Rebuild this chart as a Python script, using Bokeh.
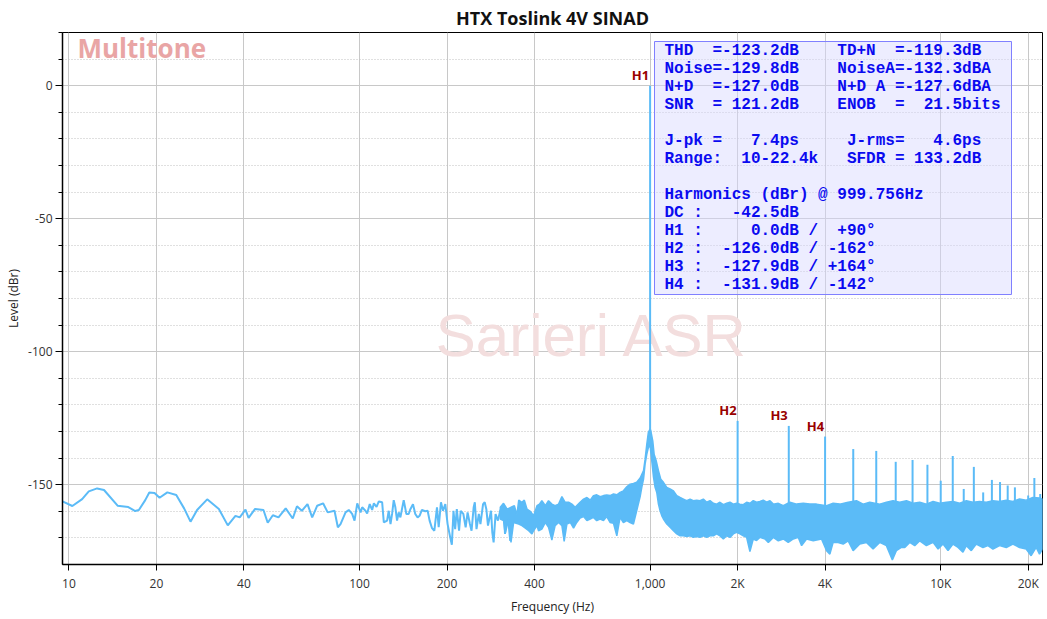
import re
import numpy as np
from bokeh.plotting import figure
from bokeh.models import FixedTicker, BoxAnnotation
from bokeh.core.properties import value
from bokeh.embed import file_html
from bokeh.resources import INLINE

# ---------------- data ----------------
lf_freq = [9.5, 10.27, 11.1, 11.7, 12.5, 13.2, 14.7, 16.0, 16.9, 17.4, 18.3, 18.9, 19.7, 20.5,
           21.8, 23.4, 24.9, 26.2, 27.6, 29.9, 32.8, 35.2, 37.4, 38.7, 40.5, 41.5, 43.7, 46.7,
           48.3, 50.3, 52.6, 55.7, 58.9, 60.9, 63.3, 66.2, 68.7, 71.5, 74.9, 77.7, 82.0, 84.2,
           86.0, 89.5, 91.8, 94.3, 96.1, 98.2, 100.8, 102.1, 104.8, 106.2, 108.4, 110.5, 112.0,
           114.4, 116.5, 119.6, 121.2, 124.4, 126.0, 127.8, 129.4, 131.1, 132.8, 134.6, 136.4,
           138.2, 141.9, 144.9, 147.6, 149.6, 152.7, 155.5, 158.4, 160.9, 163.9, 168.3, 171.5,
           174.2, 177.5, 180.9, 184.7, 187.2, 190.6, 193.7, 197.3, 200.9, 205.1, 207.8, 210.5,
           213.3, 216.1, 220.0, 222.9, 227.6, 231.8, 235.4, 239.8, 242.9, 247.0, 249.3, 252.6,
           257.3, 260.6, 266.1, 269.6, 273.1, 276.7, 283.4, 286.3, 289.3, 293.8, 299.3, 304.8,
           313.1, 316.6, 321.7, 325.0, 330.0]
lf_level = [-156.3, -158.0, -155.4, -152.5, -151.4, -152.0, -157.9, -158.4, -159.9, -159.5, -155.8,
            -152.9, -153.1, -154.9, -152.9, -153.9, -158.9, -163.9, -159.5, -155.5, -159.1, -165.3,
            -161.7, -162.3, -159.4, -162.5, -159.1, -159.5, -164.3, -161.5, -162.3, -158.9, -162.7,
            -158.1, -159.8, -157.3, -162.3, -157.9, -157.0, -160.4, -159.8, -166.0,
            -164.8, -160.4, -159.5, -161.0, -163.5, -157.0, -160.4, -158.5, -159.8, -160.8, -157.3,
            -159.5, -157.0, -158.3, -156.3, -156.6, -164.2, -163.5, -159.8, -164.8, -161.0, -155.8,
            -158.5, -163.5, -160.4, -162.3, -155.8, -161.0, -161.0, -159.2, -157.3, -161.0, -162.3,
            -161.7, -159.5, -160.0, -159.8, -163.5, -166.3, -167.3, -158.5, -166.0, -156.6, -159.8,
            -157.3, -164.8, -169.8, -172.6, -159.8, -166.7, -159.2, -167.3, -159.8, -161.0, -166.0,
            -160.4, -164.8, -167.3, -158.5, -156.6, -166.7, -161.0, -164.8, -157.3, -156.6, -159.2,
            -165.4, -159.8, -167.9, -171.7, -161.0, -163.5, -159.8, -157.3, -168.5, -161.0, -163.5,
            -171.1]

band_top_freq = [305, 313, 322, 335, 341, 348, 353, 362, 369, 377, 387, 397, 408, 416, 424, 436, 447,
                 459, 471, 484, 497, 510, 524, 538, 552, 574, 590, 606, 622, 638, 655, 673, 691, 709,
                 728, 748, 768, 788, 809, 831, 853, 876, 899, 924, 949, 961, 974, 986, 1000, 1005,
                 1021, 1032, 1049, 1068, 1088, 1111, 1141, 1171, 1203, 1235, 1268, 1302, 1336, 1372,
                 1408, 1446, 1485, 1524, 1566, 1607, 1650, 1694, 1739, 1786, 1834, 1883, 1933, 1984,
                 2037, 2092, 2148, 2205, 2264, 2324, 2386, 2450, 2517, 2585, 2654, 2761, 2872, 3028,
                 3192, 3364, 3546, 3737, 4047, 4264, 4496, 4803, 5129, 5406, 5699, 6168, 6502, 6854,
                 7224, 7622, 8035, 8471, 8927, 9412, 9921, 10457, 11022, 11618, 12253, 12910, 13611,
                 14349, 15125, 15943, 16806, 17715, 18674, 19684, 20751, 21873, 22400]
band_top_level = [-158.5, -157.0, -159.2, -158.3, -157.9, -161.3, -155.8, -156.6, -155.8, -159.2, -160.0,
                  -161.7, -157.9, -157.3, -156.0, -157.9, -156.0, -157.3, -157.9, -157.3, -154.5, -156.6,
                  -156.6, -157.3, -158.5, -156.6, -155.4, -154.8, -155.8, -154.1, -153.8, -154.5, -154.1,
                  -153.9, -154.1, -153.5, -153.8, -152.9, -152.3, -150.8, -149.8, -149.5, -149.1, -147.5,
                  -144.7, -140.4, -134.7, -130.3, -129.0, -129.7, -133.5, -138.5, -141.0, -144.7, -147.9,
                  -149.1, -151.0, -151.6, -152.3, -154.1, -154.8, -155.4, -156.0, -155.4, -156.0, -155.8,
                  -156.0, -155.4, -156.6, -156.0, -157.0, -157.3, -156.6, -157.5, -157.0, -156.6, -157.3,
                  -157.0, -157.3, -157.5, -156.6, -157.0, -156.0, -156.6, -156.3, -155.8, -156.6, -156.0,
                  -157.3, -157.0, -157.9, -156.6, -157.3, -157.0, -157.3, -157.3, -157.9, -157.0, -157.3,
                  -156.6, -156.0, -157.3, -156.6, -157.3, -156.6, -156.0, -156.6, -156.0, -157.0, -156.6,
                  -157.3, -156.3, -157.0, -156.6, -156.3, -157.0, -156.0, -156.6, -156.3, -156.6, -156.0,
                  -156.3, -155.8, -156.3, -155.4, -155.8, -154.8, -155.0, -155.4]

band_bot_freq = [305, 313, 317, 326, 332, 339, 353, 362, 372, 382, 392, 397, 408, 413, 424, 436, 447,
                 459, 471, 484, 497, 506, 517, 531, 545, 559, 574, 590, 606, 622, 638, 655, 673, 691,
                 709, 728, 748, 768, 788, 809, 831, 853, 876, 899, 924, 936, 949, 961, 974, 986, 1000,
                 1013, 1027, 1040, 1054, 1068, 1082, 1097, 1111, 1141, 1171, 1203, 1235, 1268, 1302,
                 1336, 1372, 1408, 1446, 1485, 1524, 1566, 1607, 1650, 1694, 1739, 1786, 1834, 1883,
                 1933, 1984, 2037, 2092, 2148, 2205, 2264, 2324, 2386, 2484, 2551, 2654, 2761, 2872,
                 2987, 3109, 3235, 3321, 3454, 3641, 3888, 4047, 4155, 4264, 4436, 4616, 4803, 4996,
                 5266, 5551, 5851, 6168, 6502, 6816, 7036, 7320, 7522, 7825, 8139, 8471, 8927, 9412,
                 9793, 10186, 10595, 11022, 11472, 11927, 12253, 12743, 13252, 13976, 14540, 15125,
                 15943, 16806, 17715, 18674, 19684, 20470, 21303, 21873, 22400]
band_bot_level = [-162.9, -163.5, -168.5, -162.9, -171.7, -164.2, -164.8, -165.4, -166.3, -167.3, -168.5,
                  -167.3, -165.4, -167.3, -166.7, -164.2, -166.0, -170.8, -165.4, -164.2, -165.4, -171.3,
                  -164.8, -164.2, -166.3, -164.2, -162.5, -162.0, -163.5, -162.9, -162.3, -163.5, -162.9,
                  -163.5, -162.0, -164.2, -164.5, -169.2, -162.3, -164.2, -163.5, -164.2, -164.8, -159.8,
                  -154.5, -151.0, -147.9, -142.2, -138.5, -136.0, -135.5, -141.0, -147.2, -151.0, -152.9,
                  -157.3, -159.8, -161.7, -162.9, -164.8, -166.0, -167.3, -168.5, -169.2, -169.2, -169.5,
                  -169.2, -169.8, -169.5, -169.8, -169.2, -169.8, -169.2, -169.2, -168.5, -169.2, -170.4,
                  -169.2, -169.8, -168.5, -167.9, -168.5, -169.2, -169.8, -175.1, -170.4, -171.0, -169.8,
                  -170.4, -171.7, -169.8, -171.1, -170.4, -171.7, -170.4, -169.8, -172.9, -170.4, -171.1,
                  -170.4, -174.8, -176.1, -171.7, -171.7, -172.3, -171.1, -174.8, -172.3, -171.7, -174.2,
                  -171.7, -172.9, -178.3, -174.8, -173.6, -173.6, -171.7, -172.9, -171.1, -172.9, -171.7,
                  -174.2, -172.3, -174.8, -172.3, -173.6, -175.4, -172.9, -174.8, -172.3, -173.6, -172.9,
                  -174.2, -172.9, -173.6, -172.3, -173.6, -174.2, -176.7, -173.6, -176.1, -174.2]

harm_freq = [999.756, 2000, 3000, 4000, 5000, 6000, 7000, 8000, 9000, 10000, 11000, 12000, 13000,
             14000, 15000, 16000, 17000, 18000, 20000, 21000, 22000]
harm_level = [0.0, -126.0, -127.9, -131.9, -136.6, -137.3, -141.4, -140.7, -142.5, -148.5, -139.2,
              -151.6, -143.3, -152.9, -148.2, -149.0, -150.3, -151.0, -154.1, -147.5, -153.5]
harm_labels = ["H1", "H2", "H3", "H4"]

x_ticks = [10, 20, 40, 100, 200, 400, 1000, 2000, 4000, 10000, 20000]
x_tick_labels = ["10", "20", "40", "100", "200", "400", "1,000", "2K", "4K", "10K", "20K"]
y_ticks = [0, -50, -100, -150]
y_tick_labels = ["0", "-50", "-100", "-150"]
y_minor_ticks = [20, 10, -10, -20, -30, -40, -60, -70, -80, -90, -110, -120, -130, -140, -160, -170]

stats_lines = [
    "THD  =-123.2dB    TD+N  =-119.3dB",
    "Noise=-129.8dB    NoiseA=-132.3dBA",
    "N+D  =-127.0dB    N+D A =-127.6dBA",
    "SNR  = 121.2dB    ENOB  =  21.5bits",
    "",
    "J-pk =   7.4ps     J-rms=   4.6ps",
    "Range:  10-22.4k   SFDR = 133.2dB",
    "",
    "Harmonics (dBr) @ 999.756Hz",
    "DC :   -42.5dB",
    "H1 :     0.0dB /  +90°",
    "H2 :  -126.0dB / -162°",
    "H3 :  -127.9dB / +164°",
    "H4 :  -131.9dB / -142°",
]

# ---------------- figure ----------------
X0, X1 = 9.5, 22400
Y0, Y1 = -180, 20
FL, FR, FT, FB = 62, 1042, 32, 564


def fx(px):
    a, b = np.log10(X0), np.log10(X1)
    return 10 ** (a + (px - FL) / (FR - FL) * (b - a))


def fy(py):
    return Y1 - (py - FT) / (FB - FT) * (Y1 - Y0)


p = figure(width=1047, height=619, x_axis_type="log", x_range=(X0, X1), y_range=(Y0, Y1),
           output_backend="svg", toolbar_location=None, title="HTX Toslink 4V SINAD",
           min_border_left=FL, min_border_right=1047 - FR, min_border_top=FT,
           min_border_bottom=619 - FB)
p.background_fill_color = "white"
p.border_fill_color = "white"
p.outline_line_color = "black"
p.outline_line_width = 1

p.title.align = "center"
p.title.text_font = "Open Sans"
p.title.text_font_size = "18px"
p.title.text_font_style = "bold"
p.title.text_color = "#111111"
p.title.text_line_height = 1.0
p.title.standoff = 6

FONT = "Open Sans"
for ax in (p.xaxis[0], p.yaxis[0]):
    ax.axis_line_color = "black"
    ax.axis_line_width = 1.5
    ax.major_tick_line_color = "black"
    ax.minor_tick_line_color = "black"
    ax.major_tick_in = 0
    ax.minor_tick_in = 0
    ax.major_label_text_font = FONT
    ax.major_label_text_font_size = "12px"
    ax.major_label_text_color = "#333333"
    ax.axis_label_text_font = FONT
    ax.axis_label_text_font_size = "12px"
    ax.axis_label_text_font_style = "normal"
    ax.axis_label_text_color = "#222222"

p.xaxis.ticker = FixedTicker(ticks=x_ticks, minor_ticks=[])
p.xaxis.major_label_overrides = {t: l for t, l in zip(x_ticks, x_tick_labels)}
p.xaxis.major_tick_out = 6
p.xaxis.major_label_standoff = 4
p.xaxis.axis_label = "Frequency (Hz)"
p.xaxis.axis_label_standoff = 3

p.yaxis.ticker = FixedTicker(ticks=y_ticks, minor_ticks=y_minor_ticks)
p.yaxis.major_label_overrides = {t: l for t, l in zip(y_ticks, y_tick_labels)}
p.yaxis.major_tick_out = 7
p.yaxis.minor_tick_out = 4
p.yaxis.major_label_standoff = 3
p.yaxis.axis_label = "Level (dBr)"
p.yaxis.axis_label_standoff = 3

p.xgrid.grid_line_color = "#C8C8C8"
p.xgrid.grid_line_width = 1
p.ygrid.grid_line_color = "#C8C8C8"
p.ygrid.minor_grid_line_color = "#C0C0C0"
p.ygrid.minor_grid_line_dash = "1 2"

# watermarks
p.text(x=[fx(592)], y=[fy(335)], text=["Sarieri ASR"], text_font=value("Liberation Sans"),
       text_font_size="60px", text_color="#F3DEDE", text_align="center", text_baseline="middle")
p.text(x=[fx(77)], y=[fy(47)], text=["Multitone"], text_font=value("Open Sans"),
       text_font_size="26px", text_font_style="bold", text_color="#E9A5A5",
       text_align="left", text_baseline="middle")

# spectrum
TRACE = "#5BBBF7"
p.line(lf_freq, lf_level, line_color=TRACE, line_width=2)
poly_x = list(band_top_freq) + list(band_bot_freq[::-1])
poly_y = list(band_top_level) + list(band_bot_level[::-1])
p.patch(poly_x, poly_y, fill_color=TRACE, line_color=TRACE, line_width=1.5)

base = np.interp(np.log10(harm_freq), np.log10(band_top_freq), band_top_level) - 2
p.segment(x0=harm_freq, y0=base, x1=harm_freq, y1=harm_level, line_color=TRACE, line_width=2)

p.text(x=harm_freq[:4], y=harm_level[:4], text=harm_labels, text_font=value("Open Sans"),
       text_font_size="13px", text_font_style="bold", text_color="#990000",
       text_align="right", text_baseline="bottom", x_offset=-1, y_offset=-2)

# stats box
p.add_layout(BoxAnnotation(left=fx(654), right=fx(1011), top=fy(41), bottom=fy(294),
                           fill_color="#D8D8FF", fill_alpha=0.45, line_color="#8080FF",
                           line_width=1, line_alpha=1, level="underlay"))

CW, LH = 9.6, 18
tx, ty, toff_x, toff_y = [], [], [], []
tt = []
for row, line in enumerate(stats_lines):
    for m in re.finditer(r"\S+", line):
        tt.append(m.group(0))
        tx.append(fx(664))
        ty.append(fy(50))
        toff_x.append(m.start() * CW)
        toff_y.append(row * LH)
stats_r = p.text(x=tx, y=ty, text=tt, x_offset=toff_x, y_offset=toff_y,
                 text_font=value("Liberation Mono"), text_font_size="16px", text_font_style="bold",
                 text_color="#0A0AF0", text_align="left", text_baseline="middle")
stats_r.level = "overlay"

open("out.html", "w").write(file_html(p, INLINE))
